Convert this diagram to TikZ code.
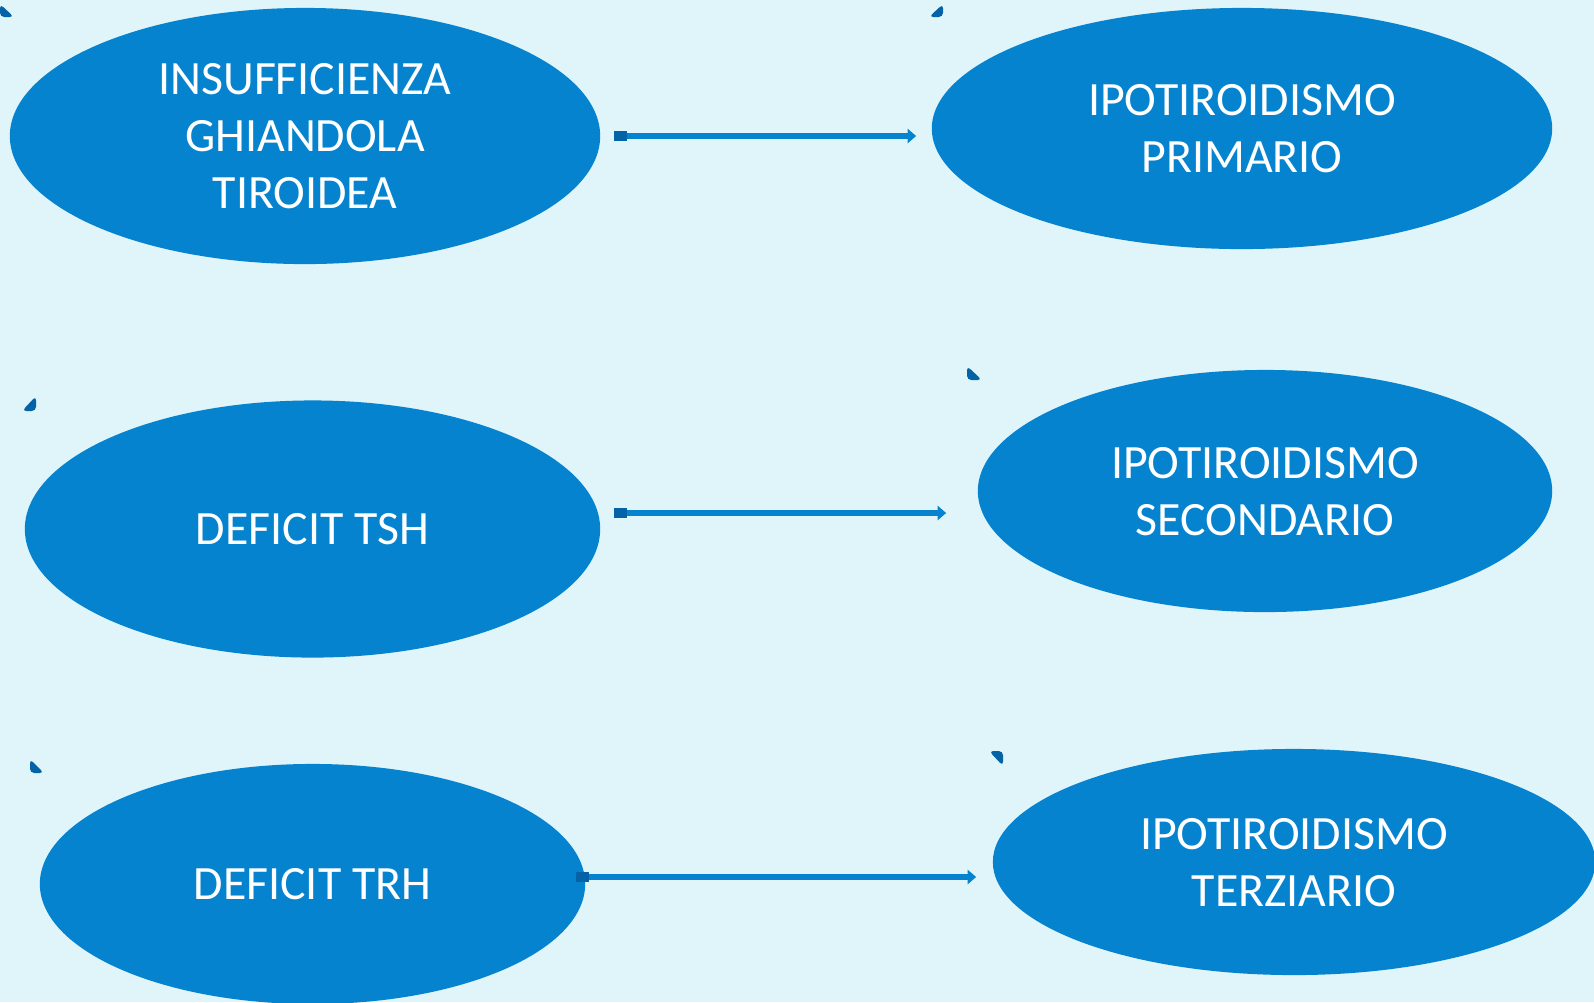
\documentclass[tikz,border=0pt]{standalone}
\usepackage{fontspec}
\setmainfont{Carlito}
\usepackage{xcolor}
\usetikzlibrary{arrows.meta, shapes.geometric, calc}
\definecolor{thyBlue}{RGB}{5,131,207}
\definecolor{thyDark}{RGB}{4,98,166}
\definecolor{thySoft}{RGB}{224,245,250}

\begin{document}
\begin{tikzpicture}[
    x=0.01cm, y=-0.01cm,
    ell/.style={
      ellipse, fill=thyBlue, draw=none, inner sep=0pt, text=white,
      align=center, text depth=-2pt, font=\fontsize{13.6}{16.2}\selectfont
    },
    arr/.style={{Square[length=3.6pt,width=3pt,color=thyDark]}-{Triangle[length=2.4pt,width=4pt]},
      line width=1.9pt, thyBlue},
    handle/.style={fill=thyDark, rounded corners=1.2pt}
  ]
    \useasboundingbox (0,0) rectangle (1594,1002);
    \clip (0,0) rectangle (1594,1002);
    \fill[thySoft] (0,0) rectangle (1594,1002);

    % causes
    \node[ell, minimum width=5.9cm, minimum height=2.56cm] (insuf) at (305,136)
      {INSUFFICIENZA\\GHIANDOLA\\TIROIDEA};
    \node[ell, minimum width=5.75cm, minimum height=2.57cm] (tsh) at (312.5,529)
      {DEFICIT TSH};
    \node[ell, minimum width=5.45cm, minimum height=2.4cm] (trh) at (312.5,884)
      {DEFICIT TRH};

    % kinds of hypothyroidism
    \node[ell, minimum width=6.2cm, minimum height=2.41cm] (primario) at (1242,128.5)
      {IPOTIROIDISMO\\PRIMARIO};
    \node[ell, minimum width=5.74cm, minimum height=2.42cm] (secondario) at (1265,491)
      {IPOTIROIDISMO\\SECONDARIO};
    \node[ell, minimum width=6.02cm, minimum height=2.26cm] (terziario) at (1294,862)
      {IPOTIROIDISMO\\TERZIARIO};

    \draw[arr] ($(insuf.east)+(13,0)$) -- ($(insuf.east -| primario.west)+(-15,0)$);
    \draw[arr] ($(tsh.east)+(13,-16)$) -- ($(tsh.east -| secondario.west)+(-31,-16)$);
    \draw[arr] ($(trh.east)+(-10,-7)$) -- ($(trh.east -| terziario.west)+(-16,-7)$);

    % small handles
    \fill[handle] (0,4) -- (0,17) -- (14,17) -- cycle;
    \fill[handle] (943,4) -- (943,17) -- (929,17) -- cycle;
    \fill[handle] (36,396) -- (36,411) -- (22,411) -- cycle;
    \fill[handle] (967,366) -- (967,380) -- (982,380) -- cycle;
    \fill[handle] (989,751) -- (1003,751) -- (1003,766) -- cycle;
    \fill[handle] (30,759) -- (30,773) -- (44,773) -- cycle;
  \end{tikzpicture}
\end{document}
